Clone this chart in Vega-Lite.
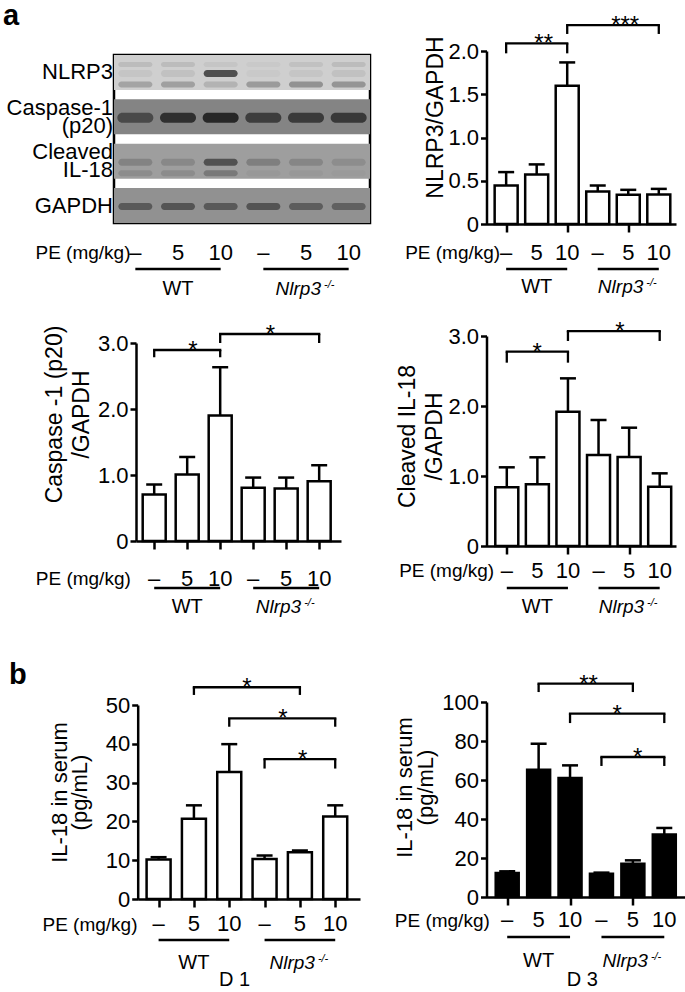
{
"$schema": "https://vega.github.io/schema/vega-lite/v6.json",
"background": "white",
"padding": {"left": 1, "top": 0, "right": 0, "bottom": 0},
"columns": 2,
"bounds": "flush",
"align": "each",
"spacing": {"row": 116, "column": 116.5},
"config": {
  "font": "Liberation Sans",
  "view": {"stroke": null},
  "axis": {"grid": false, "domainColor": "black", "domainWidth": 2.5, "tickColor": "black", "tickWidth": 2.5, "labelColor": "black", "titleColor": "black", "titleFontWeight": "normal", "labelFontSize": 22, "titleFontSize": 23, "labelFlush": false, "labelOverlap": false, "labelFont": "Liberation Sans", "titleFont": "Liberation Sans"},
  "axisX": {"tickSize": 8},
  "axisY": {"tickSize": 6, "labelPadding": 2},
  "rule": {"color": "black", "strokeWidth": 2.5},
  "text": {"color": "black"},
  "title": {"color": "black", "font": "Liberation Sans"}
},
"datasets": {
  "lanes": [{"i":1,"pe":"–"},{"i":2,"pe":"5"},{"i":3,"pe":"10"},{"i":4,"pe":"–"},{"i":5,"pe":"5"},{"i":6,"pe":"10"}],
  "strips": [{"strip":"NLRP3","ink":0.17},{"strip":"Caspase-1 (p20)","ink":0.45},{"strip":"Cleaved IL-18","ink":0.35},{"strip":"GAPDH","ink":0.40}],
  "bands": [
    {"strip":"NLRP3","lane":1,"level":"top","ink":0.27},{"strip":"NLRP3","lane":2,"level":"top","ink":0.27},{"strip":"NLRP3","lane":3,"level":"top","ink":0.22},{"strip":"NLRP3","lane":4,"level":"top","ink":0.2},{"strip":"NLRP3","lane":5,"level":"top","ink":0.24},{"strip":"NLRP3","lane":6,"level":"top","ink":0.27},
    {"strip":"NLRP3","lane":1,"level":"mid","ink":0.22},{"strip":"NLRP3","lane":2,"level":"mid","ink":0.24},{"strip":"NLRP3","lane":3,"level":"mid","ink":0.92},{"strip":"NLRP3","lane":4,"level":"mid","ink":0.2},{"strip":"NLRP3","lane":5,"level":"mid","ink":0.22},{"strip":"NLRP3","lane":6,"level":"mid","ink":0.24},
    {"strip":"NLRP3","lane":1,"level":"bottom","ink":0.4},{"strip":"NLRP3","lane":2,"level":"bottom","ink":0.42},{"strip":"NLRP3","lane":3,"level":"bottom","ink":0.32},{"strip":"NLRP3","lane":4,"level":"bottom","ink":0.45},{"strip":"NLRP3","lane":5,"level":"bottom","ink":0.5},{"strip":"NLRP3","lane":6,"level":"bottom","ink":0.48},
    {"strip":"Caspase-1 (p20)","lane":1,"level":"mid","ink":0.8},{"strip":"Caspase-1 (p20)","lane":2,"level":"mid","ink":0.97},{"strip":"Caspase-1 (p20)","lane":3,"level":"mid","ink":1.0},{"strip":"Caspase-1 (p20)","lane":4,"level":"mid","ink":0.88},{"strip":"Caspase-1 (p20)","lane":5,"level":"mid","ink":0.9},{"strip":"Caspase-1 (p20)","lane":6,"level":"mid","ink":0.92},
    {"strip":"Cleaved IL-18","lane":1,"level":"mid","ink":0.5},{"strip":"Cleaved IL-18","lane":2,"level":"mid","ink":0.47},{"strip":"Cleaved IL-18","lane":3,"level":"mid","ink":0.8},{"strip":"Cleaved IL-18","lane":4,"level":"mid","ink":0.52},{"strip":"Cleaved IL-18","lane":5,"level":"mid","ink":0.48},{"strip":"Cleaved IL-18","lane":6,"level":"mid","ink":0.44},
    {"strip":"Cleaved IL-18","lane":1,"level":"bottom","ink":0.45},{"strip":"Cleaved IL-18","lane":2,"level":"bottom","ink":0.45},{"strip":"Cleaved IL-18","lane":3,"level":"bottom","ink":0.55},{"strip":"Cleaved IL-18","lane":4,"level":"bottom","ink":0.38},{"strip":"Cleaved IL-18","lane":5,"level":"bottom","ink":0.38},{"strip":"Cleaved IL-18","lane":6,"level":"bottom","ink":0.37},
    {"strip":"GAPDH","lane":1,"level":"mid","ink":0.72},{"strip":"GAPDH","lane":2,"level":"mid","ink":0.75},{"strip":"GAPDH","lane":3,"level":"mid","ink":0.72},{"strip":"GAPDH","lane":4,"level":"mid","ink":0.76},{"strip":"GAPDH","lane":5,"level":"mid","ink":0.7},{"strip":"GAPDH","lane":6,"level":"mid","ink":0.68}
  ],
  "groups": [{"label":"WT","from":1,"to":3,"mid":2,"sup":""},{"label":"Nlrp3","from":4,"to":6,"mid":5,"sup":"-/-"}],
  "nlrp3": [{"i":1,"mean":0.445,"upper":0.60},{"i":2,"mean":0.573,"upper":0.689},{"i":3,"mean":1.598,"upper":1.868},{"i":4,"mean":0.375,"upper":0.445},{"i":5,"mean":0.337,"upper":0.395},{"i":6,"mean":0.34,"upper":0.406}],
  "nlrp3_br": [{"x1":1,"x2":3,"level":2.089,"end":1.973,"star":"**","sx":2.23},{"x1":3,"x2":6,"level":2.30,"end":2.197,"star":"***","sx":4.9}],
  "casp": [{"i":1,"mean":0.705,"upper":0.856},{"i":2,"mean":1.007,"upper":1.273},{"i":3,"mean":1.903,"upper":2.633},{"i":4,"mean":0.805,"upper":0.961},{"i":5,"mean":0.795,"upper":0.961},{"i":6,"mean":0.906,"upper":1.148}],
  "casp_br": [{"x1":1,"x2":3,"level":2.894,"end":2.784,"star":"*","sx":2.17},{"x1":3,"x2":6,"level":3.136,"end":3.0,"star":"*","sx":4.52}],
  "il18": [{"i":1,"mean":0.838,"upper":1.124},{"i":2,"mean":0.881,"upper":1.267},{"i":3,"mean":1.919,"upper":2.395},{"i":4,"mean":1.3,"upper":1.8},{"i":5,"mean":1.271,"upper":1.69},{"i":6,"mean":0.848,"upper":1.038}],
  "il18_br": [{"x1":1,"x2":3,"level":2.776,"end":2.619,"star":"*","sx":1.99},{"x1":3,"x2":6,"level":3.071,"end":2.929,"star":"*","sx":4.7}],
  "d1": [{"i":1,"mean":10.17,"upper":10.78},{"i":2,"mean":20.69,"upper":24.14},{"i":3,"mean":32.76,"upper":39.91},{"i":4,"mean":10.34,"upper":11.21},{"i":5,"mean":12.07,"upper":12.5},{"i":6,"mean":21.29,"upper":24.14}],
  "d1_br": [{"x1":2,"x2":5,"level":54.57,"end":52.59,"star":"*","sx":3.5},{"x1":3,"x2":6,"level":46.55,"end":44.4,"star":"*","sx":4.52},{"x1":4,"x2":6,"level":36.03,"end":33.62,"star":"*","sx":5.08}],
  "d3": [{"i":1,"mean":12.3,"upper":13.16},{"i":2,"mean":65.3,"upper":78.6},{"i":3,"mean":61.0,"upper":67.5},{"i":4,"mean":11.97,"upper":12.5},{"i":5,"mean":17.1,"upper":18.8},{"i":6,"mean":32.0,"upper":35.4}],
  "d3_br": [{"x1":2,"x2":5,"level":109.4,"end":105.1,"star":"**","sx":3.59},{"x1":3,"x2":6,"level":94.0,"end":89.2,"star":"*","sx":4.5},{"x1":4,"x2":6,"level":71.8,"end":67.2,"star":"*","sx":5.15}],
  "day1": [{"label":"D 1","x":3.15}],
  "day3": [{"label":"D 3","x":3.39}]
},
"concat": [
{
  "width": 256, "height": 168,
  "view": {"stroke": "black", "strokeWidth": 2.5},
  "title": {"text": "a", "anchor": "start", "frame": "group", "fontSize": 29, "fontWeight": "bold", "baseline": "alphabetic", "offset": 1, "dx": -111},
  "layer": [
    {"data": {"name": "strips"}, "mark": {"type": "rect"},
     "encoding": {
       "x": {"datum": 0.5, "type": "quantitative", "scale": {"domain": [0.5, 6.5], "nice": false, "zero": false},
             "axis": {"labels": false, "domain": false, "ticks": false, "tickSize": 0, "title": "PE (mg/kg)", "titleX": 16, "titleY": 29.7, "titleAlign": "right", "titleBaseline": "middle", "titleFontSize": 19}},
       "x2": {"datum": 6.5},
       "y": {"field": "strip", "type": "nominal", "sort": null, "scale": {"domain": ["NLRP3","Caspase-1 (p20)","Cleaved IL-18","GAPDH"], "paddingInner": 0.214, "paddingOuter": 0},
             "axis": {"title": null, "domain": false, "ticks": false, "tickSize": 0, "labelPadding": 1.5, "labelFontSize": 22, "labelLineHeight": 18,
                      "labelOffset": {"condition": {"test": "datum.value == 'Caspase-1 (p20)' || datum.value == 'Cleaved IL-18'", "value": -9}, "value": 0},
                      "labelExpr": "datum.value == 'Caspase-1 (p20)' ? ['Caspase-1', '(p20)'] : datum.value == 'Cleaved IL-18' ? ['Cleaved', 'IL-18'] : datum.value"}},
       "color": {"field": "ink", "type": "quantitative", "scale": {"domain": [0, 1], "range": ["#ffffff", "#000000"]}, "legend": null}
     }},
    {"data": {"name": "bands"}, "transform": [{"filter": "datum.level == 'top'"}],
     "mark": {"type": "tick", "orient": "horizontal", "size": 34, "thickness": 5, "cornerRadius": 2.5, "yOffset": -8},
     "encoding": {"x": {"field": "lane", "type": "quantitative"}, "y": {"field": "strip", "type": "nominal"}, "color": {"field": "ink", "type": "quantitative", "legend": null}}},
    {"data": {"name": "bands"}, "transform": [{"filter": "datum.level == 'mid' && datum.strip != 'Caspase-1 (p20)'"}],
     "mark": {"type": "tick", "orient": "horizontal", "size": 34, "thickness": 7, "cornerRadius": 3.5, "yOffset": 1},
     "encoding": {"x": {"field": "lane", "type": "quantitative"}, "y": {"field": "strip", "type": "nominal"}, "color": {"field": "ink", "type": "quantitative", "legend": null}}},
    {"data": {"name": "bands"}, "transform": [{"filter": "datum.level == 'mid' && datum.strip == 'Caspase-1 (p20)'"}],
     "mark": {"type": "tick", "orient": "horizontal", "size": 36, "thickness": 10, "cornerRadius": 5, "yOffset": 1},
     "encoding": {"x": {"field": "lane", "type": "quantitative"}, "y": {"field": "strip", "type": "nominal"}, "color": {"field": "ink", "type": "quantitative", "legend": null}}},
    {"data": {"name": "bands"}, "transform": [{"filter": "datum.level == 'bottom'"}],
     "mark": {"type": "tick", "orient": "horizontal", "size": 34, "thickness": 6, "cornerRadius": 3, "yOffset": 12},
     "encoding": {"x": {"field": "lane", "type": "quantitative"}, "y": {"field": "strip", "type": "nominal"}, "color": {"field": "ink", "type": "quantitative", "legend": null}}},
    {"data": {"name": "lanes"}, "mark": {"type": "text", "fontSize": 22, "baseline": "middle", "yOffset": 29.7},
     "encoding": {"x": {"field": "i", "type": "quantitative"}, "y": {"value": "height"}, "text": {"field": "pe"}}},
    {"data": {"name": "groups"}, "mark": {"type": "rule", "strokeWidth": 2.7, "yOffset": 46},
     "encoding": {"x": {"field": "from", "type": "quantitative"}, "x2": {"field": "to"}, "y": {"value": "height"}}},
    {"data": {"name": "groups"}, "transform": [{"filter": "datum.label == 'WT'"}], "mark": {"type": "text", "fontSize": 20, "baseline": "middle", "yOffset": 66},
     "encoding": {"x": {"field": "mid", "type": "quantitative"}, "y": {"value": "height"}, "text": {"field": "label"}}},
    {"data": {"name": "groups"}, "transform": [{"filter": "datum.label == 'Nlrp3'"}], "mark": {"type": "text", "fontSize": 19, "fontStyle": "italic", "align": "right", "dx": 15, "baseline": "middle", "yOffset": 66},
     "encoding": {"x": {"field": "mid", "type": "quantitative"}, "y": {"value": "height"}, "text": {"field": "label"}}},
    {"data": {"name": "groups"}, "transform": [{"filter": "datum.label == 'Nlrp3'"}], "mark": {"type": "text", "fontSize": 11, "fontStyle": "italic", "align": "left", "dx": 18, "dy": -4, "baseline": "middle", "yOffset": 66},
     "encoding": {"x": {"field": "mid", "type": "quantitative"}, "y": {"value": "height"}, "text": {"field": "sup"}}}
  ]
},
{
  "width": 189.5, "height": 169,
  "layer": [
    {"data": {"name": "nlrp3"}, "mark": {"type": "bar", "orient": "vertical", "width": 23, "fill": "white", "stroke": "black", "strokeWidth": 2.5},
     "encoding": {
       "x": {"field": "i", "type": "quantitative", "scale": {"domain": [0.52, 6.4], "nice": false, "zero": false},
             "axis": {"values": [1,2,3,4,5,6], "labels": false, "title": "PE (mg/kg)", "titleX": 13.2, "titleY": 28.7, "titleAlign": "right", "titleBaseline": "middle", "titleFontSize": 19}},
       "y": {"field": "mean", "type": "quantitative", "scale": {"domain": [0, 2], "range": [169, -4], "nice": false},
             "axis": {"values": [0, 0.5, 1, 1.5, 2], "labelExpr": "datum.value == 0 ? '0' : format(datum.value, '.1f')", "title": "NLRP3/GAPDH", "titleY": 62, "titlePadding": 0}}
     }},
    {"data": {"name": "nlrp3"}, "mark": {"type": "rule"}, "encoding": {"x": {"field": "i", "type": "quantitative"}, "y": {"field": "mean", "type": "quantitative"}, "y2": {"field": "upper"}}},
    {"data": {"name": "nlrp3"}, "mark": {"type": "tick", "orient": "horizontal", "size": 16, "thickness": 2.5, "color": "black", "opacity": 1}, "encoding": {"x": {"field": "i", "type": "quantitative"}, "y": {"field": "upper", "type": "quantitative"}}},
    {"data": {"name": "nlrp3_br"}, "mark": {"type": "rule", "strokeWidth": 2.3, "strokeCap": "square"}, "encoding": {"x": {"field": "x1", "type": "quantitative"}, "x2": {"field": "x2"}, "y": {"field": "level", "type": "quantitative"}}},
    {"data": {"name": "nlrp3_br"}, "mark": {"type": "rule", "strokeWidth": 2.3}, "encoding": {"x": {"field": "x1", "type": "quantitative"}, "y": {"field": "level", "type": "quantitative"}, "y2": {"field": "end"}}},
    {"data": {"name": "nlrp3_br"}, "mark": {"type": "rule", "strokeWidth": 2.3}, "encoding": {"x": {"field": "x2", "type": "quantitative"}, "y": {"field": "level", "type": "quantitative"}, "y2": {"field": "end"}}},
    {"data": {"name": "nlrp3_br"}, "mark": {"type": "text", "fontSize": 24, "baseline": "alphabetic", "dy": 8}, "encoding": {"x": {"field": "sx", "type": "quantitative"}, "y": {"field": "level", "type": "quantitative"}, "text": {"field": "star"}}},
    {"data": {"name": "lanes"}, "mark": {"type": "text", "fontSize": 22, "baseline": "middle", "yOffset": 28.7},
     "encoding": {"x": {"field": "i", "type": "quantitative"}, "y": {"value": "height"}, "text": {"field": "pe"}}},
    {"data": {"name": "groups"}, "mark": {"type": "rule", "strokeWidth": 2.7, "yOffset": 45},
     "encoding": {"x": {"field": "from", "type": "quantitative"}, "x2": {"field": "to"}, "y": {"value": "height"}}},
    {"data": {"name": "groups"}, "transform": [{"filter": "datum.label == 'WT'"}], "mark": {"type": "text", "fontSize": 20, "baseline": "middle", "yOffset": 63},
     "encoding": {"x": {"field": "mid", "type": "quantitative"}, "y": {"value": "height"}, "text": {"field": "label"}}},
    {"data": {"name": "groups"}, "transform": [{"filter": "datum.label == 'Nlrp3'"}], "mark": {"type": "text", "fontSize": 19, "fontStyle": "italic", "align": "right", "dx": 15, "baseline": "middle", "yOffset": 63},
     "encoding": {"x": {"field": "mid", "type": "quantitative"}, "y": {"value": "height"}, "text": {"field": "label"}}},
    {"data": {"name": "groups"}, "transform": [{"filter": "datum.label == 'Nlrp3'"}], "mark": {"type": "text", "fontSize": 11, "fontStyle": "italic", "align": "left", "dx": 18, "dy": -4, "baseline": "middle", "yOffset": 63},
     "encoding": {"x": {"field": "mid", "type": "quantitative"}, "y": {"value": "height"}, "text": {"field": "sup"}}}
  ]
},
{
  "width": 227, "height": 201,
  "layer": [
    {"data": {"name": "casp"}, "mark": {"type": "bar", "orient": "vertical", "width": 23, "fill": "white", "stroke": "black", "strokeWidth": 2.5},
     "encoding": {
       "x": {"field": "i", "type": "quantitative", "scale": {"domain": [0.6, 6.51], "range": [22, 227], "nice": false, "zero": false},
             "axis": {"values": [1,2,3,4,5,6], "labels": false, "title": "PE (mg/kg)", "titleX": 16.3, "titleY": 37.7, "titleAlign": "right", "titleBaseline": "middle", "titleFontSize": 19}},
       "y": {"field": "mean", "type": "quantitative", "scale": {"domain": [0, 3], "range": [201, 3], "nice": false},
             "axis": {"values": [0, 1, 2, 3], "offset": -22, "labelExpr": "datum.value == 0 ? '0' : format(datum.value, '.1f')", "title": ["Caspase -1 (p20)", "/GAPDH"], "titleY": 74, "titleLineHeight": 27, "titlePadding": 4}}
     }},
    {"data": {"name": "casp"}, "mark": {"type": "rule"}, "encoding": {"x": {"field": "i", "type": "quantitative"}, "y": {"field": "mean", "type": "quantitative"}, "y2": {"field": "upper"}}},
    {"data": {"name": "casp"}, "mark": {"type": "tick", "orient": "horizontal", "size": 16, "thickness": 2.5, "color": "black", "opacity": 1}, "encoding": {"x": {"field": "i", "type": "quantitative"}, "y": {"field": "upper", "type": "quantitative"}}},
    {"data": {"name": "casp_br"}, "mark": {"type": "rule", "strokeWidth": 2.3, "strokeCap": "square"}, "encoding": {"x": {"field": "x1", "type": "quantitative"}, "x2": {"field": "x2"}, "y": {"field": "level", "type": "quantitative"}}},
    {"data": {"name": "casp_br"}, "mark": {"type": "rule", "strokeWidth": 2.3}, "encoding": {"x": {"field": "x1", "type": "quantitative"}, "y": {"field": "level", "type": "quantitative"}, "y2": {"field": "end"}}},
    {"data": {"name": "casp_br"}, "mark": {"type": "rule", "strokeWidth": 2.3}, "encoding": {"x": {"field": "x2", "type": "quantitative"}, "y": {"field": "level", "type": "quantitative"}, "y2": {"field": "end"}}},
    {"data": {"name": "casp_br"}, "mark": {"type": "text", "fontSize": 24, "baseline": "alphabetic", "dy": 8}, "encoding": {"x": {"field": "sx", "type": "quantitative"}, "y": {"field": "level", "type": "quantitative"}, "text": {"field": "star"}}},
    {"data": {"name": "lanes"}, "mark": {"type": "text", "fontSize": 22, "baseline": "middle", "yOffset": 37.7},
     "encoding": {"x": {"field": "i", "type": "quantitative"}, "y": {"value": "height"}, "text": {"field": "pe"}}},
    {"data": {"name": "groups"}, "mark": {"type": "rule", "strokeWidth": 2.7, "yOffset": 47},
     "encoding": {"x": {"field": "from", "type": "quantitative"}, "x2": {"field": "to"}, "y": {"value": "height"}}},
    {"data": {"name": "groups"}, "transform": [{"filter": "datum.label == 'WT'"}], "mark": {"type": "text", "fontSize": 20, "baseline": "middle", "yOffset": 66},
     "encoding": {"x": {"field": "mid", "type": "quantitative"}, "y": {"value": "height"}, "text": {"field": "label"}}},
    {"data": {"name": "groups"}, "transform": [{"filter": "datum.label == 'Nlrp3'"}], "mark": {"type": "text", "fontSize": 19, "fontStyle": "italic", "align": "right", "dx": 15, "baseline": "middle", "yOffset": 66},
     "encoding": {"x": {"field": "mid", "type": "quantitative"}, "y": {"value": "height"}, "text": {"field": "label"}}},
    {"data": {"name": "groups"}, "transform": [{"filter": "datum.label == 'Nlrp3'"}], "mark": {"type": "text", "fontSize": 11, "fontStyle": "italic", "align": "left", "dx": 18, "dy": -4, "baseline": "middle", "yOffset": 66},
     "encoding": {"x": {"field": "mid", "type": "quantitative"}, "y": {"value": "height"}, "text": {"field": "sup"}}}
  ]
},
{
  "width": 189.5, "height": 206,
  "layer": [
    {"data": {"name": "il18"}, "mark": {"type": "bar", "orient": "vertical", "width": 23, "fill": "white", "stroke": "black", "strokeWidth": 2.5},
     "encoding": {
       "x": {"field": "i", "type": "quantitative", "scale": {"domain": [0.5, 6.37], "nice": false, "zero": false},
             "axis": {"values": [1,2,3,4,5,6], "labels": false, "title": "PE (mg/kg)", "titleX": 7.2, "titleY": 24.7, "titleAlign": "right", "titleBaseline": "middle", "titleFontSize": 19}},
       "y": {"field": "mean", "type": "quantitative", "scale": {"domain": [0, 3], "range": [206, -4], "nice": false},
             "axis": {"values": [0, 1, 2, 3], "labelExpr": "datum.value == 0 ? '0' : format(datum.value, '.1f')", "title": ["Cleaved IL-18", "/GAPDH"], "titleY": 96, "titleLineHeight": 27, "titlePadding": 1}}
     }},
    {"data": {"name": "il18"}, "mark": {"type": "rule"}, "encoding": {"x": {"field": "i", "type": "quantitative"}, "y": {"field": "mean", "type": "quantitative"}, "y2": {"field": "upper"}}},
    {"data": {"name": "il18"}, "mark": {"type": "tick", "orient": "horizontal", "size": 16, "thickness": 2.5, "color": "black", "opacity": 1}, "encoding": {"x": {"field": "i", "type": "quantitative"}, "y": {"field": "upper", "type": "quantitative"}}},
    {"data": {"name": "il18_br"}, "mark": {"type": "rule", "strokeWidth": 2.3, "strokeCap": "square"}, "encoding": {"x": {"field": "x1", "type": "quantitative"}, "x2": {"field": "x2"}, "y": {"field": "level", "type": "quantitative"}}},
    {"data": {"name": "il18_br"}, "mark": {"type": "rule", "strokeWidth": 2.3}, "encoding": {"x": {"field": "x1", "type": "quantitative"}, "y": {"field": "level", "type": "quantitative"}, "y2": {"field": "end"}}},
    {"data": {"name": "il18_br"}, "mark": {"type": "rule", "strokeWidth": 2.3}, "encoding": {"x": {"field": "x2", "type": "quantitative"}, "y": {"field": "level", "type": "quantitative"}, "y2": {"field": "end"}}},
    {"data": {"name": "il18_br"}, "mark": {"type": "text", "fontSize": 24, "baseline": "alphabetic", "dy": 8}, "encoding": {"x": {"field": "sx", "type": "quantitative"}, "y": {"field": "level", "type": "quantitative"}, "text": {"field": "star"}}},
    {"data": {"name": "lanes"}, "mark": {"type": "text", "fontSize": 22, "baseline": "middle", "yOffset": 24.7},
     "encoding": {"x": {"field": "i", "type": "quantitative"}, "y": {"value": "height"}, "text": {"field": "pe"}}},
    {"data": {"name": "groups"}, "mark": {"type": "rule", "strokeWidth": 2.7, "yOffset": 42},
     "encoding": {"x": {"field": "from", "type": "quantitative"}, "x2": {"field": "to"}, "y": {"value": "height"}}},
    {"data": {"name": "groups"}, "transform": [{"filter": "datum.label == 'WT'"}], "mark": {"type": "text", "fontSize": 20, "baseline": "middle", "yOffset": 61},
     "encoding": {"x": {"field": "mid", "type": "quantitative"}, "y": {"value": "height"}, "text": {"field": "label"}}},
    {"data": {"name": "groups"}, "transform": [{"filter": "datum.label == 'Nlrp3'"}], "mark": {"type": "text", "fontSize": 19, "fontStyle": "italic", "align": "right", "dx": 15, "baseline": "middle", "yOffset": 61},
     "encoding": {"x": {"field": "mid", "type": "quantitative"}, "y": {"value": "height"}, "text": {"field": "label"}}},
    {"data": {"name": "groups"}, "transform": [{"filter": "datum.label == 'Nlrp3'"}], "mark": {"type": "text", "fontSize": 11, "fontStyle": "italic", "align": "left", "dx": 18, "dy": -4, "baseline": "middle", "yOffset": 61},
     "encoding": {"x": {"field": "mid", "type": "quantitative"}, "y": {"value": "height"}, "text": {"field": "sup"}}}
  ]
},
{
  "width": 246, "height": 237,
  "title": {"text": "b", "anchor": "start", "frame": "group", "fontSize": 29, "fontWeight": "bold", "baseline": "alphabetic", "offset": -51, "dx": -105},
  "layer": [
    {"data": {"name": "d1"}, "mark": {"type": "bar", "orient": "vertical", "width": 24, "fill": "white", "stroke": "black", "strokeWidth": 2.5},
     "encoding": {
       "x": {"field": "i", "type": "quantitative", "scale": {"domain": [0.55, 6.56], "range": [23.7, 246], "nice": false, "zero": false},
             "axis": {"values": [1,2,3,4,5,6], "labels": false, "title": "PE (mg/kg)", "titleX": 23, "titleY": 25, "titleAlign": "right", "titleBaseline": "middle", "titleFontSize": 19}},
       "y": {"field": "mean", "type": "quantitative", "scale": {"domain": [0, 50], "range": [237, 43], "nice": false},
             "axis": {"values": [0, 10, 20, 30, 40, 50], "offset": -23.7, "title": ["IL-18 in serum", "(pg/mL)"], "titleY": 130, "titleLineHeight": 20, "titlePadding": 14, "titleFontSize": 22}}
     }},
    {"data": {"name": "d1"}, "mark": {"type": "rule"}, "encoding": {"x": {"field": "i", "type": "quantitative"}, "y": {"field": "mean", "type": "quantitative"}, "y2": {"field": "upper"}}},
    {"data": {"name": "d1"}, "mark": {"type": "tick", "orient": "horizontal", "size": 16, "thickness": 2.5, "color": "black", "opacity": 1}, "encoding": {"x": {"field": "i", "type": "quantitative"}, "y": {"field": "upper", "type": "quantitative"}}},
    {"data": {"name": "d1_br"}, "mark": {"type": "rule", "strokeWidth": 2.3, "strokeCap": "square"}, "encoding": {"x": {"field": "x1", "type": "quantitative"}, "x2": {"field": "x2"}, "y": {"field": "level", "type": "quantitative"}}},
    {"data": {"name": "d1_br"}, "mark": {"type": "rule", "strokeWidth": 2.3}, "encoding": {"x": {"field": "x1", "type": "quantitative"}, "y": {"field": "level", "type": "quantitative"}, "y2": {"field": "end"}}},
    {"data": {"name": "d1_br"}, "mark": {"type": "rule", "strokeWidth": 2.3}, "encoding": {"x": {"field": "x2", "type": "quantitative"}, "y": {"field": "level", "type": "quantitative"}, "y2": {"field": "end"}}},
    {"data": {"name": "d1_br"}, "mark": {"type": "text", "fontSize": 24, "baseline": "alphabetic", "dy": 8}, "encoding": {"x": {"field": "sx", "type": "quantitative"}, "y": {"field": "level", "type": "quantitative"}, "text": {"field": "star"}}},
    {"data": {"name": "lanes"}, "mark": {"type": "text", "fontSize": 22, "baseline": "middle", "yOffset": 25},
     "encoding": {"x": {"field": "i", "type": "quantitative"}, "y": {"value": "height"}, "text": {"field": "pe"}}},
    {"data": {"name": "groups"}, "mark": {"type": "rule", "strokeWidth": 2.7, "yOffset": 41},
     "encoding": {"x": {"field": "from", "type": "quantitative"}, "x2": {"field": "to"}, "y": {"value": "height"}}},
    {"data": {"name": "groups"}, "transform": [{"filter": "datum.label == 'WT'"}], "mark": {"type": "text", "fontSize": 20, "baseline": "middle", "yOffset": 64},
     "encoding": {"x": {"field": "mid", "type": "quantitative"}, "y": {"value": "height"}, "text": {"field": "label"}}},
    {"data": {"name": "groups"}, "transform": [{"filter": "datum.label == 'Nlrp3'"}], "mark": {"type": "text", "fontSize": 19, "fontStyle": "italic", "align": "right", "dx": 15, "baseline": "middle", "yOffset": 64},
     "encoding": {"x": {"field": "mid", "type": "quantitative"}, "y": {"value": "height"}, "text": {"field": "label"}}},
    {"data": {"name": "groups"}, "transform": [{"filter": "datum.label == 'Nlrp3'"}], "mark": {"type": "text", "fontSize": 11, "fontStyle": "italic", "align": "left", "dx": 18, "dy": -4, "baseline": "middle", "yOffset": 64},
     "encoding": {"x": {"field": "mid", "type": "quantitative"}, "y": {"value": "height"}, "text": {"field": "sup"}}},
    {"data": {"name": "day1"}, "mark": {"type": "text", "fontSize": 20, "baseline": "middle", "yOffset": 81},
     "encoding": {"x": {"field": "x", "type": "quantitative"}, "y": {"value": "height"}, "text": {"field": "label"}}}
  ]
},
{
  "width": 198.5, "height": 235,
  "layer": [
    {"data": {"name": "d3"}, "mark": {"type": "bar", "orient": "vertical", "width": 23, "fill": "black", "stroke": "black", "strokeWidth": 2.5},
     "encoding": {
       "x": {"field": "i", "type": "quantitative", "scale": {"domain": [0.5, 6.5], "nice": false, "zero": false},
             "axis": {"values": [1,2,3,4,5,6], "labels": false, "title": "PE (mg/kg)", "titleX": 2.8, "titleY": 23, "titleAlign": "right", "titleBaseline": "middle", "titleFontSize": 19}},
       "y": {"field": "mean", "type": "quantitative", "scale": {"domain": [0, 100], "range": [235, 40], "nice": false},
             "axis": {"values": [0, 20, 40, 60, 80, 100], "title": ["IL-18 in serum", "(pg/mL)"], "titleY": 125, "titleLineHeight": 21, "titlePadding": 4, "titleFontSize": 22}}
     }},
    {"data": {"name": "d3"}, "mark": {"type": "rule"}, "encoding": {"x": {"field": "i", "type": "quantitative"}, "y": {"field": "mean", "type": "quantitative"}, "y2": {"field": "upper"}}},
    {"data": {"name": "d3"}, "mark": {"type": "tick", "orient": "horizontal", "size": 16, "thickness": 2.5, "color": "black", "opacity": 1}, "encoding": {"x": {"field": "i", "type": "quantitative"}, "y": {"field": "upper", "type": "quantitative"}}},
    {"data": {"name": "d3_br"}, "mark": {"type": "rule", "strokeWidth": 2.3, "strokeCap": "square"}, "encoding": {"x": {"field": "x1", "type": "quantitative"}, "x2": {"field": "x2"}, "y": {"field": "level", "type": "quantitative"}}},
    {"data": {"name": "d3_br"}, "mark": {"type": "rule", "strokeWidth": 2.3}, "encoding": {"x": {"field": "x1", "type": "quantitative"}, "y": {"field": "level", "type": "quantitative"}, "y2": {"field": "end"}}},
    {"data": {"name": "d3_br"}, "mark": {"type": "rule", "strokeWidth": 2.3}, "encoding": {"x": {"field": "x2", "type": "quantitative"}, "y": {"field": "level", "type": "quantitative"}, "y2": {"field": "end"}}},
    {"data": {"name": "d3_br"}, "mark": {"type": "text", "fontSize": 24, "baseline": "alphabetic", "dy": 8}, "encoding": {"x": {"field": "sx", "type": "quantitative"}, "y": {"field": "level", "type": "quantitative"}, "text": {"field": "star"}}},
    {"data": {"name": "lanes"}, "mark": {"type": "text", "fontSize": 22, "baseline": "middle", "yOffset": 23},
     "encoding": {"x": {"field": "i", "type": "quantitative"}, "y": {"value": "height"}, "text": {"field": "pe"}}},
    {"data": {"name": "groups"}, "mark": {"type": "rule", "strokeWidth": 2.7, "yOffset": 40},
     "encoding": {"x": {"field": "from", "type": "quantitative"}, "x2": {"field": "to"}, "y": {"value": "height"}}},
    {"data": {"name": "groups"}, "transform": [{"filter": "datum.label == 'WT'"}], "mark": {"type": "text", "fontSize": 20, "baseline": "middle", "yOffset": 64},
     "encoding": {"x": {"field": "mid", "type": "quantitative"}, "y": {"value": "height"}, "text": {"field": "label"}}},
    {"data": {"name": "groups"}, "transform": [{"filter": "datum.label == 'Nlrp3'"}], "mark": {"type": "text", "fontSize": 19, "fontStyle": "italic", "align": "right", "dx": 15, "baseline": "middle", "yOffset": 64},
     "encoding": {"x": {"field": "mid", "type": "quantitative"}, "y": {"value": "height"}, "text": {"field": "label"}}},
    {"data": {"name": "groups"}, "transform": [{"filter": "datum.label == 'Nlrp3'"}], "mark": {"type": "text", "fontSize": 11, "fontStyle": "italic", "align": "left", "dx": 18, "dy": -4, "baseline": "middle", "yOffset": 64},
     "encoding": {"x": {"field": "mid", "type": "quantitative"}, "y": {"value": "height"}, "text": {"field": "sup"}}},
    {"data": {"name": "day3"}, "mark": {"type": "text", "fontSize": 20, "baseline": "middle", "yOffset": 83},
     "encoding": {"x": {"field": "x", "type": "quantitative"}, "y": {"value": "height"}, "text": {"field": "label"}}}
  ]
}
]
}
